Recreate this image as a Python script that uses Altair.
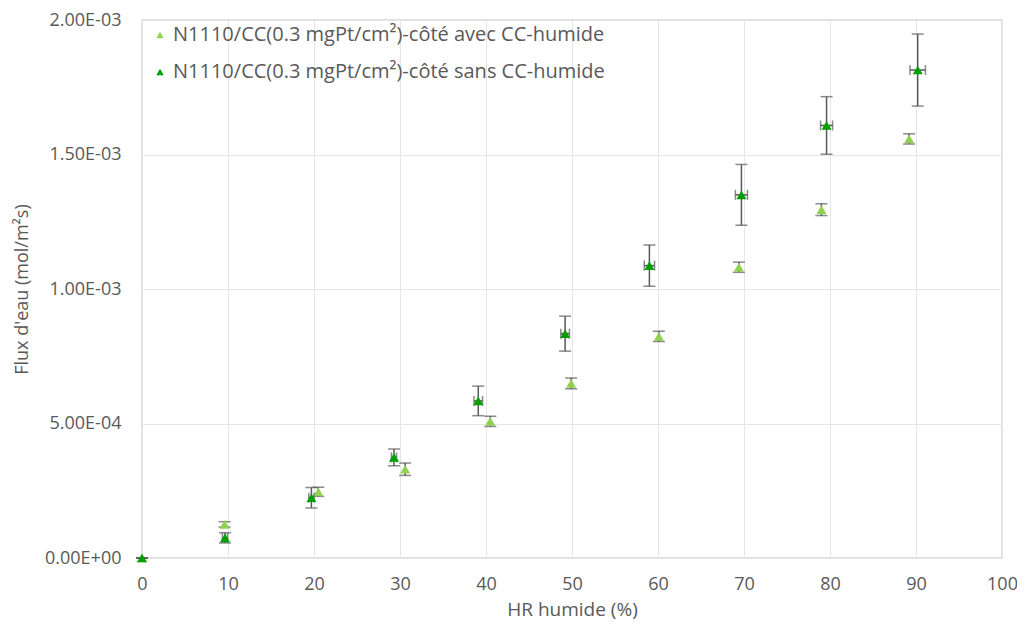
import altair as alt
import pandas as pd

# ---- data ----
series_names = [
    "N1110/CC(0.3 mgPt/cm²)-côté avec CC-humide",
    "N1110/CC(0.3 mgPt/cm²)-côté sans CC-humide",
]
series_colors = ["#92D050", "#00A000"]

x_avec = [0, 9.6, 20.5, 30.6, 40.5, 49.9, 60.1, 69.4, 79.0, 89.2]
y_avec = [0, 1.25e-4, 2.46e-4, 3.30e-4, 5.08e-4, 6.49e-4, 8.24e-4, 1.081e-3, 1.295e-3, 1.558e-3]
yerr_avec = [0, 1.0e-5, 1.7e-5, 2.3e-5, 1.9e-5, 2.0e-5, 1.9e-5, 1.9e-5, 2.2e-5, 1.9e-5]
xerr_avec = [0, 0, 0, 0, 0, 0, 0, 0, 0, 0]

x_sans = [0, 9.65, 19.7, 29.3, 39.1, 49.2, 59.0, 69.7, 79.6, 90.2]
y_sans = [0, 7.5e-5, 2.24e-4, 3.74e-4, 5.84e-4, 8.34e-4, 1.087e-3, 1.350e-3, 1.608e-3, 1.814e-3]
yerr_sans = [0, 1.9e-5, 3.8e-5, 3.1e-5, 5.5e-5, 6.5e-5, 7.7e-5, 1.13e-4, 1.07e-4, 1.34e-4]
xerr_sans = [0, 0.3, 0.3, 0.3, 0.5, 0.5, 0.6, 0.7, 0.7, 0.9]

x_ticks = [0, 10, 20, 30, 40, 50, 60, 70, 80, 90, 100]
y_ticks = [0, 5e-4, 1e-3, 1.5e-3, 2e-3]
y_tick_labels = ["0.00E+00", "5.00E-04", "1.00E-03", "1.50E-03", "2.00E-03"]

FONT = "Open Sans"
GREY = "#595959"
GRID = "#e6e6e6"


def frame(name, xs, ys, yerrs, xerrs):
    df = pd.DataFrame({"x": xs, "y": ys, "yerr": yerrs, "xerr": xerrs})
    df["series"] = name
    df["ylo"] = df["y"] - df["yerr"]
    df["yhi"] = df["y"] + df["yerr"]
    df["xlo"] = df["x"] - df["xerr"]
    df["xhi"] = df["x"] + df["xerr"]
    return df


df_avec = frame(series_names[0], x_avec, y_avec, yerr_avec, xerr_avec)
df_sans = frame(series_names[1], x_sans, y_sans, yerr_sans, xerr_sans)

label_expr = "[" + ",".join("'%s'" % s for s in y_tick_labels) + "][round(datum.value/0.0005)]"

xscale = alt.Scale(domain=[0, 100], nice=False)
yscale = alt.Scale(domain=[0, 0.002], nice=False)

x_axis = alt.Axis(values=x_ticks, title="HR humide (%)", grid=True, gridColor=GRID,
                  domain=False, ticks=False, labelPadding=17, labelFontSize=18,
                  labelFlush=False, labelOverlap=False,
                  labelColor=GREY, labelFont=FONT, titleFont=FONT, titleFontSize=19,
                  titleColor=GREY, titleFontWeight="normal", titlePadding=7)
y_axis = alt.Axis(values=y_ticks, title="Flux d'eau (mol/m²s)", grid=True, gridColor=GRID,
                  domain=False, ticks=False, labelPadding=21, labelFontSize=18,
                  labelFlush=False, labelOverlap=False,
                  labelColor=GREY, labelFont=FONT, labelExpr=label_expr,
                  titleFont=FONT, titleFontSize=18, titleColor=GREY,
                  titleFontWeight="normal", titlePadding=13)


def X(field):
    return alt.X(field, type="quantitative", scale=xscale, axis=x_axis)


def Y(field):
    return alt.Y(field, type="quantitative", scale=yscale, axis=y_axis)


legend = alt.Legend(title=None, orient="none", legendX=8, legendY=5,
                    labelFont=FONT, labelFontSize=20, labelColor=GREY,
                    symbolType="triangle-up", symbolSize=55,
                    symbolStrokeWidth=0, rowPadding=17,
                    labelLimit=700, labelOffset=3)


def layers(df):
    base = alt.Chart(df)
    vrule = base.mark_rule(color=GREY, strokeWidth=1.5).encode(x=X("x"), y=Y("ylo"), y2="yhi:Q")
    vcap_lo = base.mark_tick(orient="horizontal", size=12, thickness=1.5, color=GREY).encode(
        x=X("x"), y=Y("ylo"))
    vcap_hi = base.mark_tick(orient="horizontal", size=12, thickness=1.5, color=GREY).encode(
        x=X("x"), y=Y("yhi"))
    out = [vrule, vcap_lo, vcap_hi]
    dfx = df[df["xerr"] > 0]
    if len(dfx):
        bx = alt.Chart(dfx)
        out.append(bx.mark_rule(color=GREY, strokeWidth=1.5).encode(x=X("xlo"), x2="xhi:Q", y=Y("y")))
        out.append(bx.mark_tick(orient="vertical", size=10, thickness=1.5, color=GREY).encode(
            x=X("xlo"), y=Y("y")))
        out.append(bx.mark_tick(orient="vertical", size=10, thickness=1.5, color=GREY).encode(
            x=X("xhi"), y=Y("y")))
    pts = base.mark_point(shape="triangle-up", filled=True, size=100, opacity=1).encode(
        x=X("x"), y=Y("y"),
        color=alt.Color("series:N",
                        scale=alt.Scale(domain=series_names, range=series_colors),
                        legend=legend))
    out.append(pts)
    return out


chart = alt.layer(
    *layers(df_avec),
    *layers(df_sans),
).properties(
    width=860, height=538,
    autosize=alt.AutoSizeParams(type="none"),
    padding={"left": 134, "top": 12, "right": 15, "bottom": 64},
    background="white",
).configure_view(stroke="#bfbfbf", strokeWidth=1.3)

chart.save("out.html", embed_options={"renderer": "svg", "actions": False})
